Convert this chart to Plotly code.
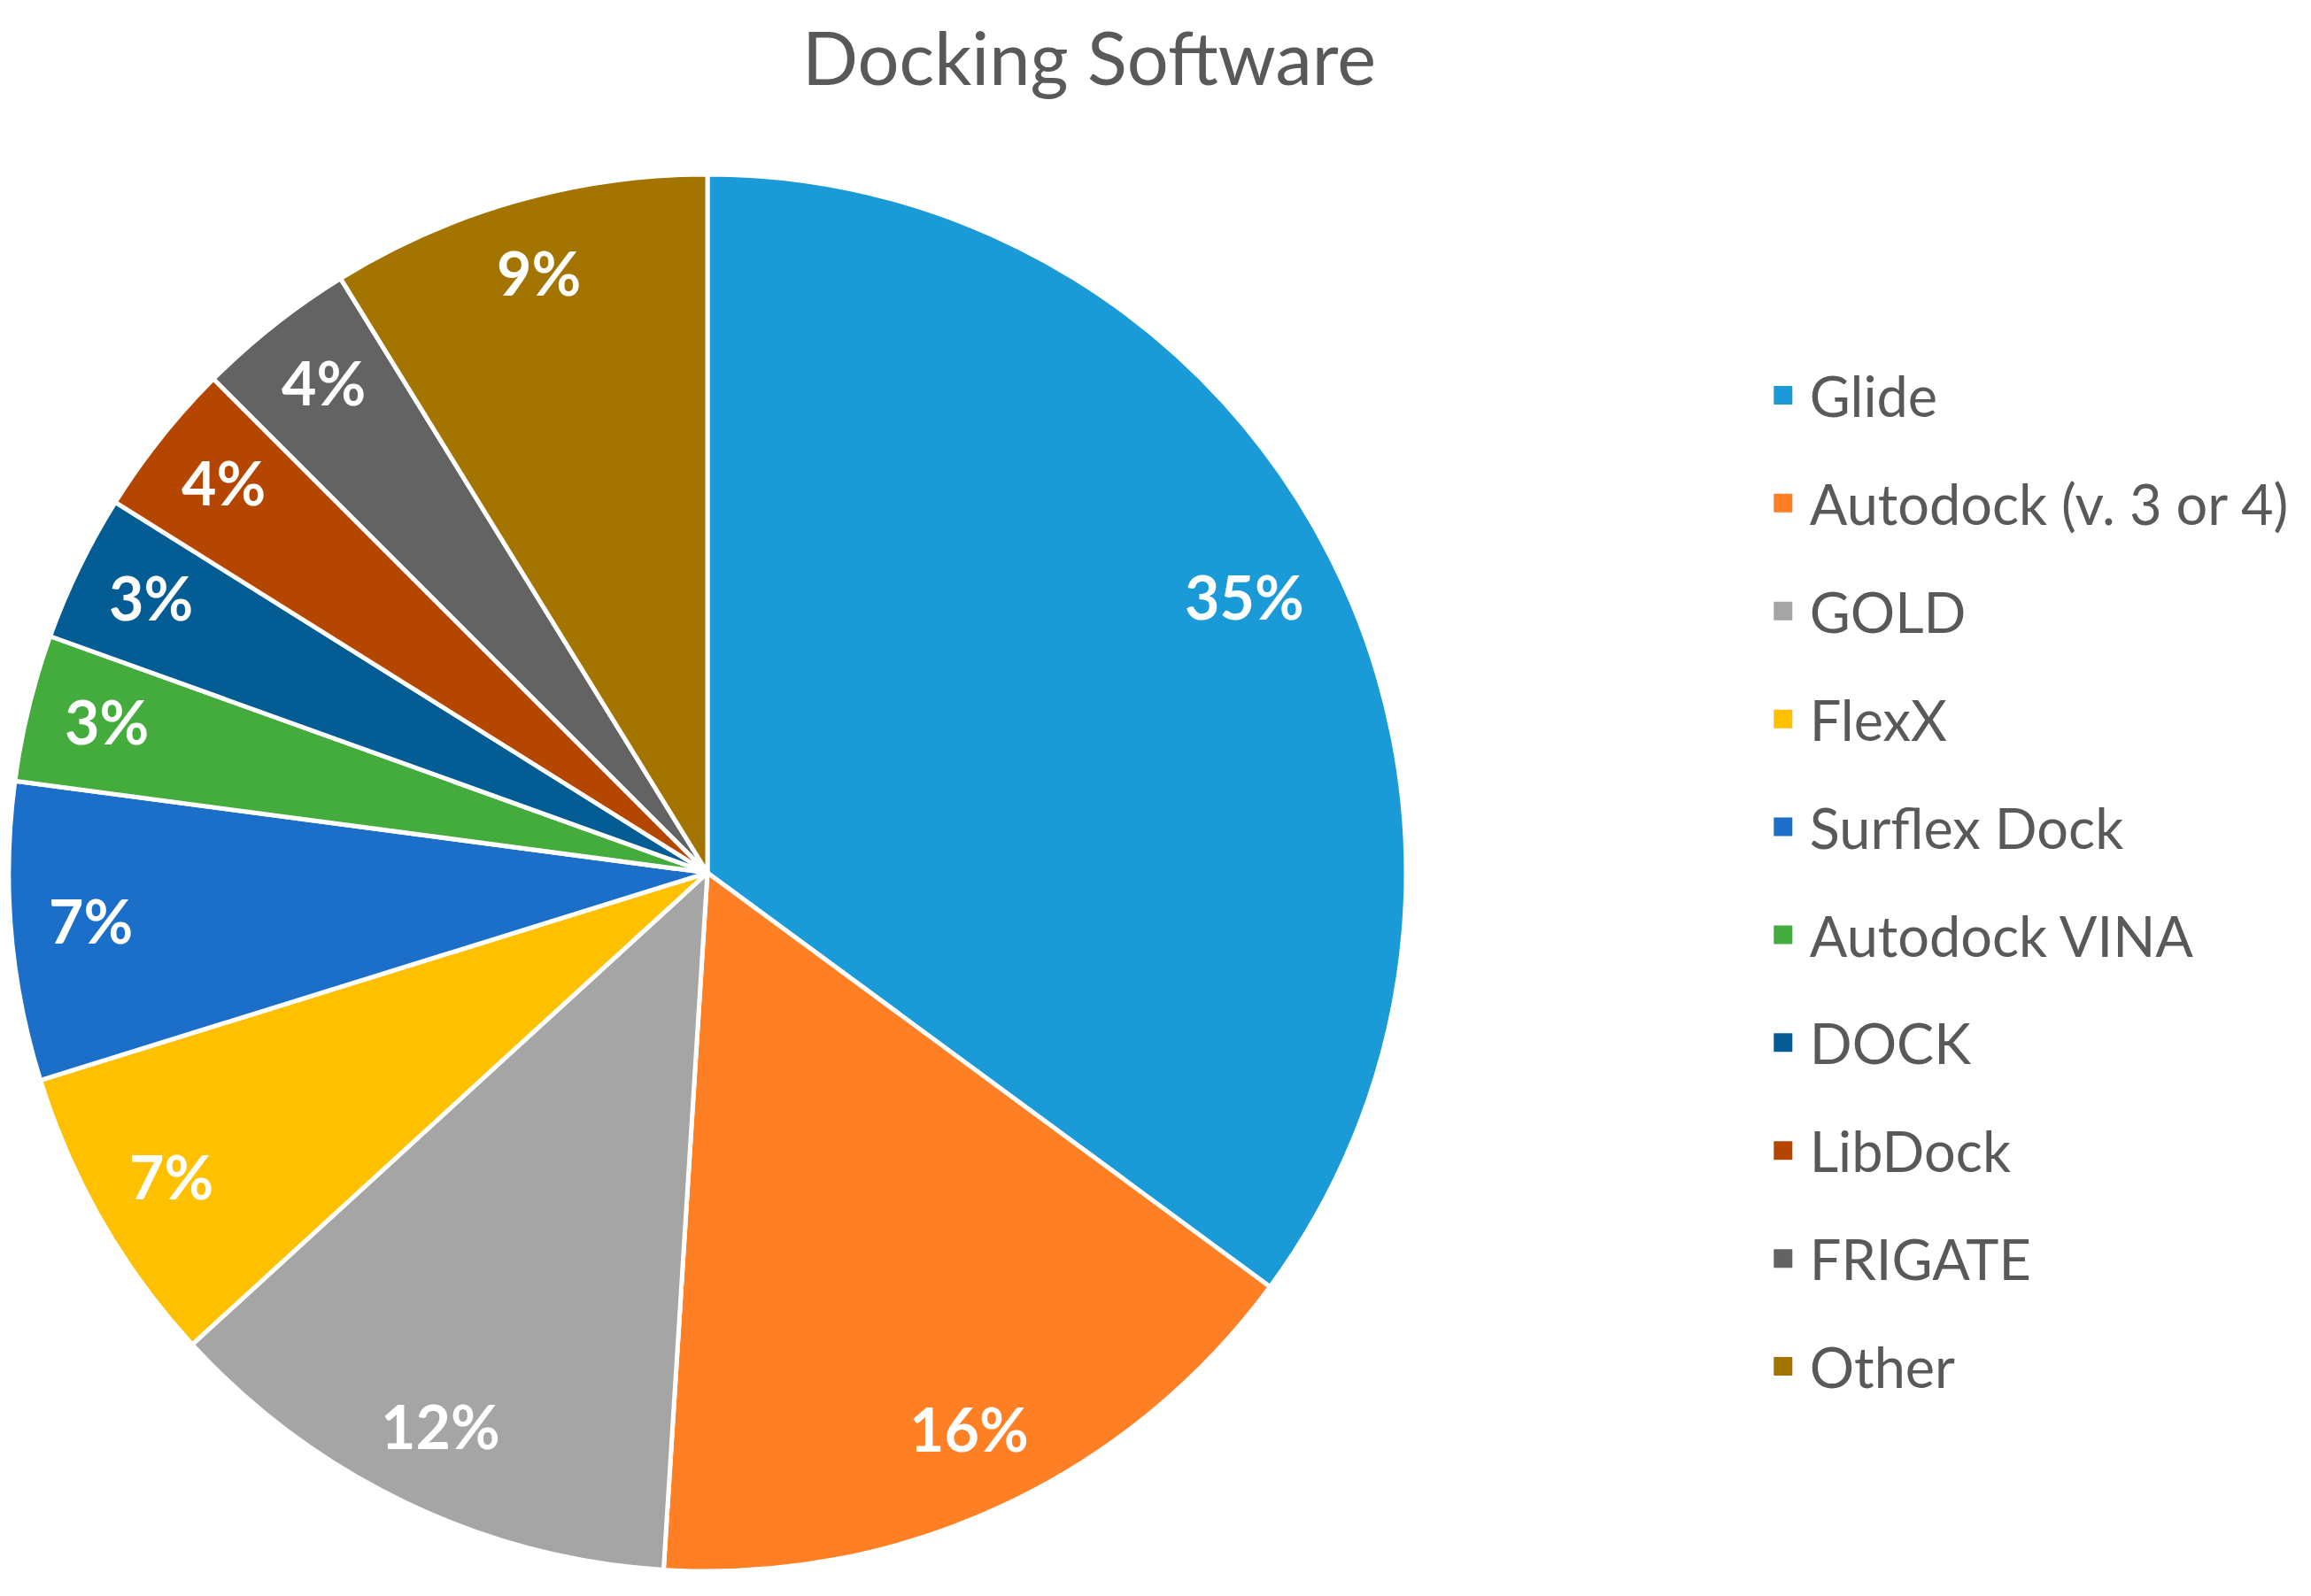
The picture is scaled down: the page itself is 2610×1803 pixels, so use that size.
import math
import plotly.graph_objects as go

# Data (share of studies, %)
software = ["Glide", "Autodock (v. 3 or 4)", "GOLD", "FlexX", "Surflex Dock",
            "Autodock VINA", "DOCK", "LibDock", "FRIGATE", "Other"]
share = [35.1, 15.9, 12.2, 7.0, 6.9, 3.4, 3.4, 3.6, 3.7, 8.8]
colours = ["#1A9BD7", "#FE7F24", "#A5A5A5", "#FFC000", "#1C6FC8",
           "#43AC3C", "#035C93", "#B54600", "#636363", "#A47400"]

FONT = "Lato"
GREY = "#595959"
W, H = 2610, 1803

# pie placement in pixels
cx, cy, half = 791, 978, 789

fig = go.Figure()

fig.add_trace(go.Pie(
    labels=software,
    values=share,
    sort=False,
    direction="clockwise",
    rotation=0,
    marker=dict(colors=colours, line=dict(color="white", width=5)),
    textinfo="none",
    domain=dict(x=[(cx - half) / W, (cx + half) / W],
                y=[1 - (cy + half) / H, 1 - (cy - half) / H]),
    showlegend=False,
    hoverinfo="label+percent",
))

# percentage labels placed near the rim like Excel's best-fit labels
total = sum(share)
radius = half * 0.995
ox, oy = cx, cy - 6   # text box centre sits a little low, nudge up
cum = 0.0
for i, s in enumerate(share):
    mid = (cum + s / 2) / total * 2 * math.pi
    cum += s
    frac = 0.865 if i == 0 else 0.89
    px = ox + radius * frac * math.sin(mid)
    py = oy - radius * frac * math.cos(mid)
    fig.add_annotation(
        x=px / W, y=1 - py / H, xref="paper", yref="paper",
        text=f"{round(s / total * 100)}%", showarrow=False,
        xanchor="center", yanchor="middle",
        font=dict(family=FONT, size=68, color="white", weight="bold"),
    )

# legend entries (bigger squares than the pie's own legend symbols)
for name, col in zip(software, colours):
    fig.add_trace(go.Scatter(
        x=[None], y=[None], mode="markers", name=name, legendgroup=name,
        marker=dict(symbol="square", size=16, color=col, line=dict(color=col, width=5)),
    ))

fig.update_layout(
    width=W, height=H,
    margin=dict(l=0, r=0, t=0, b=0),
    paper_bgcolor="white", plot_bgcolor="white",
    title=dict(text="Docking Software", x=1222 / W, y=1 - 59 / H,
               xanchor="center", yanchor="middle",
               font=dict(family=FONT, size=83, color=GREY)),
    xaxis=dict(visible=False), yaxis=dict(visible=False),
    legend=dict(x=0.757, y=1 - 391 / H, xanchor="left", yanchor="top",
                font=dict(family=FONT, size=63, color=GREY),
                tracegroupgap=37, itemwidth=50, bgcolor="rgba(0,0,0,0)"),
)

fig.write_html("out.html")
